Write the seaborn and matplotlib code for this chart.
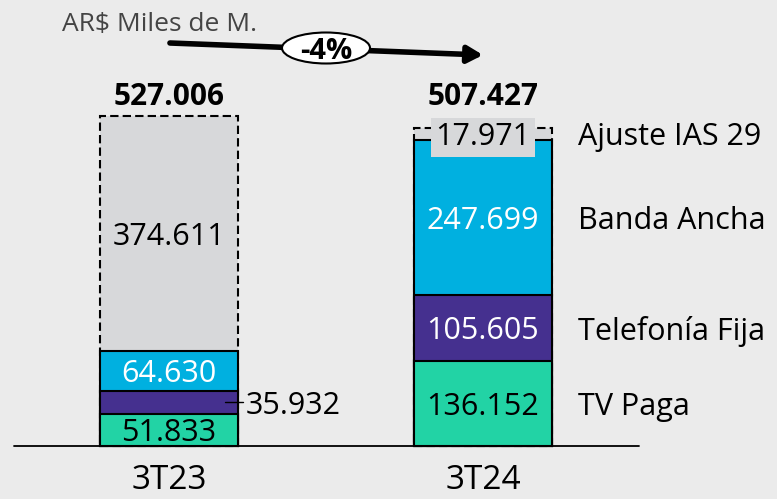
import numpy as np
import pandas as pd
import matplotlib
matplotlib.use("Agg")
import matplotlib.pyplot as plt
import seaborn as sns
from matplotlib.patches import Ellipse

# Ingresos por segmento, AR$ millones
periodos = ["3T23", "3T24"]
tv_paga = [51833, 136152]
telefonia_fija = [35932, 105605]
banda_ancha = [64630, 247699]
ajuste_ias29 = [374611, 17971]
totales = [527006, 507427]
variacion = "-4%"
segmentos = ["TV Paga", "Telefonía Fija", "Banda Ancha", "Ajuste IAS 29"]

BG = "#EBEBEB"
C_VERDE = "#22D3A5"
C_VIOLETA = "#45308F"
C_CELESTE = "#00B0E0"
C_GRIS = "#D7D8DA"


def fmt(v):
    return f"{v:,}".replace(",", ".")


sns.set_style("white")
plt.rcParams["font.family"] = ["Open Sans", "DejaVu Sans"]

fig = plt.figure(figsize=(7.77, 4.99), dpi=100, facecolor=BG)
ax = fig.add_axes([0, 0, 1, 1])
ax.set_facecolor(BG)

df = pd.DataFrame({
    "periodo": periodos,
    "tv": tv_paga,
    "tel": telefonia_fija,
    "ba": banda_ancha,
    "aj": ajuste_ias29,
})
df["c1"] = df["tv"]
df["c2"] = df["c1"] + df["tel"]
df["c3"] = df["c2"] + df["ba"]
df["c4"] = df["c3"] + df["aj"]

# barras apiladas dibujadas como acumulados, de la mas alta a la mas baja
capas = [("c4", C_GRIS, (0, (4, 2))), ("c3", C_CELESTE, "-"),
         ("c2", C_VIOLETA, "-"), ("c1", C_VERDE, "-")]
for col, color, ls in capas:
    sns.barplot(data=df, x="periodo", y=col, color=color, saturation=1,
                width=0.44, edgecolor="black", linewidth=1.5, linestyle=ls,
                ax=ax)

# escala: pixeles -> datos
px_unit = 0.626 / 1000
ax.set_xlim(-169 / 314, (777 - 169) / 314)
ax.set_ylim(-53 / px_unit, (499 - 53) / px_unit)
ax.set_axis_off()

ax.plot([-0.494, 1.497], [0, 0], color="black", lw=1.3, zorder=5)

fs = 22
for i, p in enumerate(periodos):
    mids = [df.loc[i, "c1"] / 2,
            df.loc[i, "c1"] + df.loc[i, "tel"] / 2,
            df.loc[i, "c2"] + df.loc[i, "ba"] / 2,
            df.loc[i, "c3"] + df.loc[i, "aj"] / 2]
    vals = [tv_paga[i], telefonia_fija[i], banda_ancha[i], ajuste_ias29[i]]
    if i == 0:
        cols = ["black", None, "white", "black"]
    else:
        cols = ["black", "white", "white", "black"]
    for k in range(4):
        if cols[k] is None:
            continue
        kw = {}
        if i == 1 and k == 3:
            kw["bbox"] = dict(boxstyle="square,pad=0.15", fc=C_GRIS, ec="none")
        ax.text(i, mids[k], fmt(vals[k]), ha="center", va="center_baseline",
                fontsize=fs, color=cols[k], zorder=6, **kw)
    # total
    ax.text(i, 545000, fmt(totales[i]), ha="center", va="baseline",
            fontsize=21.5, fontweight="bold", color="black")
    ax.text(i, -68500, p, ha="center", va="baseline", fontsize=24,
            color="black")
    if i == 0:
        ax.plot([0.178, 0.236], [mids[1], mids[1]], color="black", lw=1, zorder=6)
        ax.text(0.243, mids[1], fmt(vals[1]), ha="left", va="center_baseline",
                fontsize=fs, color="black")
    else:
        for k in range(4):
            ax.text(1.303, mids[k], segmentos[k], ha="left",
                    va="center_baseline", fontsize=fs, color="black")

# unidad
ax.text(-0.341, (446 - 22) / 0.626 * 1000, "AR$ Miles de M.", ha="left",
        va="center_baseline", fontsize=19, color="#444444")

# flecha de variacion
y0 = (446 - 43) / 0.626 * 1000
y1 = (446 - 55) / 0.626 * 1000
ax.annotate("", xy=(1.0, y1), xytext=(0.003, y0),
            arrowprops=dict(arrowstyle="-|>,head_length=0.9,head_width=0.5",
                            lw=4, color="black", shrinkA=0, shrinkB=0),
            zorder=7)
yc = (446 - 48) / 0.626 * 1000
ax.add_patch(Ellipse((0.5, yc), 88 / 314, 31 / 0.626 * 1000, fc="white",
                     ec="black", lw=1.5, zorder=8))
ax.text(0.5, yc, variacion, ha="center", va="center_baseline", fontsize=21,
        fontweight="bold", color="black", zorder=9)

fig.savefig("out.png", dpi=100, facecolor=BG)
